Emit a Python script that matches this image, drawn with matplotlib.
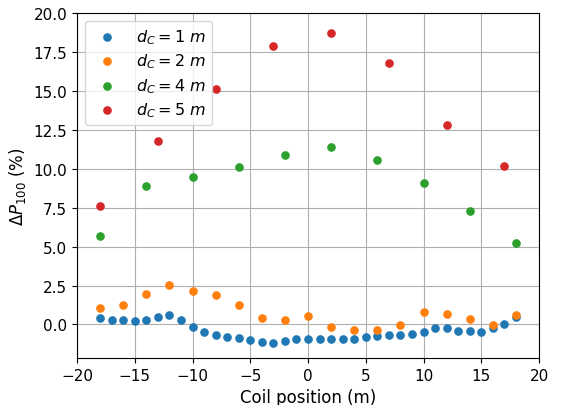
import numpy as np
import matplotlib
matplotlib.use("Agg")
import matplotlib.pyplot as plt

# d_C = 1 m : every 1 m from -18 to 18
x_d1 = np.arange(-18, 19, 1)
y_d1 = [0.40, 0.30, 0.28, 0.24, 0.30, 0.45, 0.62, 0.32, -0.17, -0.47,
        -0.66, -0.79, -0.88, -1.00, -1.11, -1.20, -1.09, -0.92, -0.93,
        -0.94, -0.90, -0.96, -0.90, -0.79, -0.75, -0.66, -0.70, -0.60,
        -0.51, -0.21, -0.23, -0.41, -0.41, -0.47, -0.23, 0.02, 0.45]

# d_C = 2 m : every 2 m
x_d2 = np.arange(-18, 19, 2)
y_d2 = [1.07, 1.26, 1.94, 2.52, 2.15, 1.90, 1.28, 0.43, 0.32, 0.56,
        -0.15, -0.34, -0.34, -0.06, 0.81, 0.66, 0.38, -0.04, 0.62]

# d_C = 4 m : every 4 m
x_d4 = np.arange(-18, 19, 4)
y_d4 = [5.66, 8.87, 9.49, 10.13, 10.88, 11.39, 10.56, 9.10, 7.26, 5.24]

# d_C = 5 m : every 5 m
x_d5 = np.arange(-18, 18, 5)
y_d5 = [7.58, 11.80, 15.13, 17.85, 18.70, 16.77, 12.80, 10.17]

labels = [r"$d_C = 1\ m$", r"$d_C = 2\ m$", r"$d_C = 4\ m$", r"$d_C = 5\ m$"]

fig = plt.figure(figsize=(5.63, 4.06), dpi=100)
ax = fig.add_axes([0.1368, 0.1158, 0.8206, 0.8497])

for xs, ys, lab in zip([x_d1, x_d2, x_d4, x_d5], [y_d1, y_d2, y_d4, y_d5], labels):
    ax.scatter(xs, ys, s=27, label=lab, zorder=3)

ax.set_xlim(-20, 20)
ax.set_ylim(-2.15, 20)
ax.set_yticks(np.arange(0, 20.1, 2.5))
ax.tick_params(labelsize=11)
ax.grid(True)
ax.set_xlabel("Coil position (m)", fontsize=12)
ax.set_ylabel(r"$\Delta P_{100}$ (%)", fontsize=12)
ax.legend(loc="upper left", fontsize=11.5, labelspacing=0.35)

fig.savefig("out.png", dpi=100)
